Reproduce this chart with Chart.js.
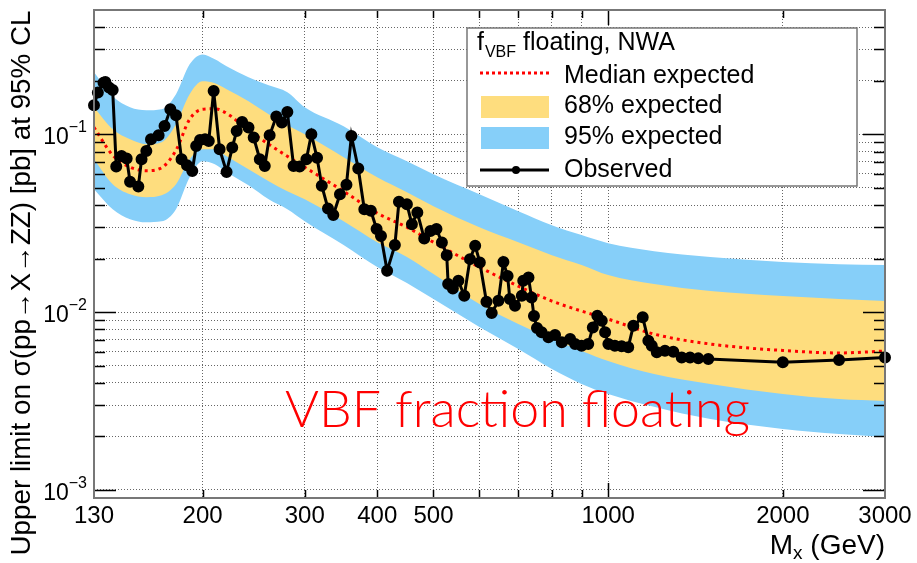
<!DOCTYPE html>
<html>
<head>
<meta charset="utf-8">
<script src="https://cdn.jsdelivr.net/npm/chart.js@4.4.0/dist/chart.umd.min.js"></script>
<style>
  html, body { margin: 0; padding: 0; background: #fff; }
  #wrap { width: 917px; height: 563px; }
</style>
</head>
<body>
<div id="wrap"><canvas id="chart" width="917" height="563"></canvas></div>
<script>
// Observed upper limit (pb) vs. resonance mass (GeV)
const obsMass = [130, 132, 135, 136, 138, 140, 142, 145, 148, 150, 155, 157, 160, 163, 168, 172, 176, 180, 184, 188,
    192, 195, 198, 202, 205, 209, 214, 220, 225, 229, 234, 240, 245, 251, 256, 261, 268, 274, 280, 287,
    294, 302, 308, 315, 321, 329, 336, 345, 354, 361, 371, 380, 390, 399, 406, 416, 429, 436, 450, 459,
    469, 482, 494, 506, 517, 527, 530, 540, 552, 565, 578, 590, 601, 617, 630, 647, 660, 671, 677, 691,
    710, 714, 729, 738, 745, 754, 768, 789, 810, 832, 860, 877, 900, 924, 941, 958, 975, 988, 1001, 1027,
    1055, 1083, 1105, 1147, 1173, 1189, 1213, 1253, 1295, 1339, 1384, 1430, 1488, 2000, 2500, 3000];
const obsLimit = [0.1455, 0.1715, 0.1952, 0.1967, 0.1830, 0.1774, 0.0658, 0.0755, 0.0730, 0.0540, 0.0508, 0.0724, 0.0806, 0.0937, 0.0987, 0.1113, 0.1382, 0.1279, 0.0724, 0.0670,
    0.0622, 0.0860, 0.0929, 0.0937, 0.0917, 0.1751, 0.0824, 0.0614, 0.0842, 0.1044, 0.1172, 0.1091, 0.0958, 0.0724, 0.0664, 0.0987, 0.1257, 0.1163, 0.1335, 0.0664,
    0.0658, 0.0724, 0.1000, 0.0738, 0.0514, 0.0382, 0.0351, 0.0460, 0.0520, 0.0978, 0.0642, 0.0379, 0.0371, 0.0293, 0.0268, 0.01706, 0.0238, 0.0417, 0.0404, 0.0312,
    0.0363, 0.0259, 0.0286, 0.0293, 0.0246, 0.0209, 0.01437, 0.01359, 0.01499, 0.01235, 0.01985, 0.0236, 0.01902, 0.01143, 0.00987, 0.01157, 0.0191, 0.01593, 0.01183, 0.01085,
    0.01235, 0.01499, 0.01566, 0.01209, 0.00950, 0.00813, 0.00769, 0.00721, 0.00743, 0.00676, 0.00705, 0.00661, 0.00647, 0.00661, 0.00820, 0.00953, 0.00894, 0.00769, 0.00661, 0.00647,
    0.00642, 0.00634, 0.00837, 0.00934, 0.00690, 0.00647, 0.00594, 0.00606, 0.00598, 0.00556, 0.00556, 0.00549, 0.00544, 0.00522, 0.00537, 0.00556];

// Expected limit and its 68% / 95% bands
const expMass = [130, 140, 150, 160, 170, 180, 190, 200, 210, 220, 240, 260, 280, 300, 350, 400, 450, 500, 600, 700, 800, 900, 1000, 1200, 1500, 2000, 2500, 3000];
const expMedian = [0.1095, 0.0762, 0.0653, 0.0624, 0.0648, 0.0813, 0.1214, 0.1382, 0.1391, 0.1312, 0.1053, 0.0879, 0.0752, 0.0653, 0.0478, 0.0360, 0.0300, 0.0247, 0.0179, 0.0140, 0.01153, 0.01013, 0.00913, 0.00752, 0.00661, 0.00608, 0.00589, 0.00604];
const exp2Up = [0.2230, 0.1635, 0.1418, 0.1364, 0.1382, 0.1678, 0.2473, 0.2814, 0.2638, 0.2410, 0.2090, 0.1885, 0.1722, 0.1418, 0.1109, 0.0845, 0.0705, 0.0596, 0.0460, 0.0369, 0.0308, 0.0271, 0.0244, 0.0220, 0.0204, 0.0191, 0.0186, 0.0184];
const exp1Up = [0.1418, 0.1067, 0.0937, 0.0879, 0.0902, 0.1138, 0.1678, 0.1985, 0.1934, 0.1790, 0.1532, 0.1295, 0.1123, 0.1000, 0.0743, 0.0573, 0.0472, 0.0394, 0.0300, 0.0247, 0.0209, 0.0184, 0.01614, 0.01437, 0.01312, 0.01230, 0.01183, 0.01153];
const exp1Down = [0.0724, 0.0524, 0.0460, 0.0443, 0.0454, 0.0524, 0.0724, 0.0824, 0.0824, 0.0752, 0.0636, 0.0544, 0.0478, 0.0431, 0.0324, 0.0247, 0.0204, 0.01635, 0.01109, 0.00856, 0.00705, 0.00604, 0.00531, 0.00448, 0.00394, 0.00346, 0.00324, 0.00316];
const exp2Down = [0.0491, 0.0379, 0.0333, 0.0320, 0.0324, 0.0379, 0.0573, 0.0705, 0.0679, 0.0612, 0.0517, 0.0431, 0.0379, 0.0324, 0.0238, 0.0179, 0.01455, 0.01183, 0.00824, 0.00619, 0.00478, 0.00394, 0.00346, 0.00293, 0.00250, 0.00220, 0.00206, 0.00198];

// axis ticks
const xGridValues = [200, 300, 400, 500, 600, 700, 800, 900, 1000, 2000];
const xLabelValues = [130, 200, 300, 400, 500, 1000, 2000, 3000];
const yGridValues = [0.001, 0.002, 0.003, 0.004, 0.005, 0.006, 0.007, 0.008, 0.009,
    0.01, 0.02, 0.03, 0.04, 0.05, 0.06, 0.07, 0.08, 0.09, 0.1, 0.2, 0.3, 0.4];
const yLabelValues = [0.001, 0.01, 0.1];

const YELLOW = '#fedd7e';
const BLUE = '#86cff9';
const FONT = "'Liberation Sans', Arial, sans-serif";
const NOTE_FONT = "Lato, 'Noto Sans', sans-serif";

function pts(xs, ys) {
    return xs.map((m, i) => ({ x: m, y: ys[i] }));
}

function isDecade(v) {
    const l = Math.log10(v);
    return Math.abs(l - Math.round(l)) < 1e-9;
}

// font size at which the text spans the given width
function fitFont(ctx, text, width, family, base, weight) {
    ctx.font = (weight || '') + ' ' + base + 'px ' + family;
    return base * width / ctx.measureText(text).width;
}

const overlay = {
    id: 'overlay',
    afterDraw(chart) {
        const { ctx, chartArea: a, scales: { x, y } } = chart;
        ctx.save();

        // tick marks on all four sides
        ctx.strokeStyle = '#000';
        ctx.lineWidth = 1.5;
        ctx.beginPath();
        yGridValues.forEach(v => {
            const py = Math.round(y.getPixelForValue(v)) + 0.5;
            const len = isDecade(v) ? 22 : 11;
            ctx.moveTo(a.left, py); ctx.lineTo(a.left + len, py);
            ctx.moveTo(a.right, py); ctx.lineTo(a.right - len, py);
        });
        xGridValues.forEach(v => {
            const px = Math.round(x.getPixelForValue(v)) + 0.5;
            const len = isDecade(v) ? 15 : 8;
            ctx.moveTo(px, a.bottom); ctx.lineTo(px, a.bottom - len);
            ctx.moveTo(px, a.top); ctx.lineTo(px, a.top + len);
        });
        ctx.stroke();

        // frame
        ctx.strokeStyle = '#777';
        ctx.lineWidth = 2;
        ctx.strokeRect(a.left, a.top, a.right - a.left, a.bottom - a.top);

        // tick labels
        ctx.fillStyle = '#000';
        ctx.textBaseline = 'alphabetic';
        ctx.textAlign = 'center';
        ctx.font = '24px ' + FONT;
        xLabelValues.forEach(v => {
            ctx.fillText(String(v), x.getPixelForValue(v), 523);
        });
        ctx.textAlign = 'left';
        yLabelValues.forEach(v => {
            const py = y.getPixelForValue(v);
            const sup = '\u2212' + Math.abs(Math.round(Math.log10(v)));
            ctx.font = '16px ' + FONT;
            const supW = ctx.measureText(sup).width;
            ctx.font = '23px ' + FONT;
            const baseW = ctx.measureText('10').width;
            const x0 = 87 - supW - baseW;
            ctx.fillText('10', x0, py + 10);
            ctx.font = '16px ' + FONT;
            ctx.fillText(sup, x0 + baseW, py - 2);
        });

        // x title: M_x (GeV), right aligned
        ctx.font = '28px ' + FONT;
        const tail = ' (GeV)';
        const tailW = ctx.measureText(tail).width;
        const mW = ctx.measureText('M').width;
        ctx.font = '19px ' + FONT;
        const subW = ctx.measureText('x').width;
        const tx = a.right - tailW - subW - mW;
        ctx.font = '28px ' + FONT;
        ctx.fillText('M', tx, 554);
        ctx.font = '19px ' + FONT;
        ctx.fillText('x', tx + mW, 559);
        ctx.font = '28px ' + FONT;
        ctx.fillText(tail, tx + mW + subW, 554);

        // y title, rotated
        const yTitle = 'Upper limit on \u03c3(pp\u2192X\u2192ZZ) [pb] at 95% CL';
        const ySize = fitFont(ctx, yTitle, 545, FONT, 26);
        ctx.save();
        ctx.translate(30, 283);
        ctx.rotate(-Math.PI / 2);
        ctx.textAlign = 'center';
        ctx.font = ySize.toFixed(2) + 'px ' + FONT;
        ctx.fillText(yTitle, 0, 0);
        ctx.restore();

        // annotation
        const note = 'VBF fraction floating';
        const nSize = fitFont(ctx, note, 465, NOTE_FONT, 46, '300');
        ctx.font = '300 ' + nSize.toFixed(2) + 'px ' + NOTE_FONT;
        ctx.fillStyle = '#ff0000';
        ctx.textAlign = 'left';
        ctx.fillText(note, 285, 427);

        // legend box
        ctx.fillStyle = '#fff';
        ctx.fillRect(467, 28, 390, 158);
        ctx.strokeStyle = '#777';
        ctx.lineWidth = 1.5;
        ctx.strokeRect(467, 28, 390, 158);

        ctx.fillStyle = '#000';
        ctx.font = '25px ' + FONT;
        ctx.fillText('f', 477, 50);
        const fW = ctx.measureText('f').width;
        ctx.font = '16px ' + FONT;
        ctx.fillText('VBF', 477 + fW + 1, 57);
        const vbfW = ctx.measureText('VBF').width;
        ctx.font = '25px ' + FONT;
        ctx.fillText(' floating, NWA', 477 + fW + 1 + vbfW, 50);

        ctx.fillText('Median expected', 564, 83);
        ctx.fillText('68% expected', 564, 113);
        ctx.fillText('95% expected', 564, 144);
        ctx.fillText('Observed', 564, 177);

        ctx.strokeStyle = '#ff0000';
        ctx.lineWidth = 3;
        ctx.setLineDash([3, 3]);
        ctx.beginPath(); ctx.moveTo(480, 73); ctx.lineTo(549, 73); ctx.stroke();
        ctx.setLineDash([]);

        ctx.fillStyle = YELLOW;
        ctx.fillRect(481, 96, 68, 22);
        ctx.fillStyle = BLUE;
        ctx.fillRect(481, 127, 68, 22);

        ctx.strokeStyle = '#000';
        ctx.lineWidth = 3;
        ctx.beginPath(); ctx.moveTo(480, 170); ctx.lineTo(549, 170); ctx.stroke();
        ctx.fillStyle = '#000';
        ctx.beginPath(); ctx.arc(516, 170, 4, 0, Math.PI * 2); ctx.fill();

        ctx.restore();
    }
};

const bandEdge = {
    borderColor: 'rgba(0,0,0,0)',
    borderWidth: 0,
    pointRadius: 0,
    cubicInterpolationMode: 'monotone'
};

new Chart(document.getElementById('chart'), {
    type: 'line',
    data: {
        datasets: [
            {
                label: 'Observed',
                data: pts(obsMass, obsLimit),
                borderColor: '#000',
                backgroundColor: '#000',
                borderWidth: 3,
                pointRadius: 4.5,
                pointHoverRadius: 4.5,
                tension: 0,
                fill: false,
                clip: false
            },
            {
                label: 'Median expected',
                data: pts(expMass, expMedian),
                borderColor: '#ff0000',
                borderWidth: 3,
                borderDash: [3, 4],
                pointRadius: 0,
                fill: false,
                cubicInterpolationMode: 'monotone'
            },
            { label: '68% expected', data: pts(expMass, exp1Up), backgroundColor: YELLOW, fill: 4, ...bandEdge },
            { label: '95% expected', data: pts(expMass, exp2Up), backgroundColor: BLUE, fill: 5, ...bandEdge },
            { label: '68% low', data: pts(expMass, exp1Down), fill: false, ...bandEdge },
            { label: '95% low', data: pts(expMass, exp2Down), fill: false, ...bandEdge }
        ]
    },
    options: {
        responsive: false,
        animation: false,
        devicePixelRatio: 1,
        layout: { padding: { top: 10, right: 32, left: 0, bottom: 0 } },
        plugins: { legend: { display: false }, tooltip: { enabled: false } },
        scales: {
            x: {
                type: 'logarithmic',
                min: 130,
                max: 3000,
                afterBuildTicks: s => { s.ticks = xGridValues.map(v => ({ value: v })); },
                afterFit: s => { s.height = 65; },
                ticks: { display: false },
                grid: { color: 'rgba(0,0,0,0.6)', lineWidth: 1, drawTicks: false },
                border: { display: false, dash: [1, 2] }
            },
            y: {
                type: 'logarithmic',
                min: 0.0009,
                max: 0.5,
                afterBuildTicks: s => { s.ticks = yGridValues.map(v => ({ value: v })); },
                afterFit: s => { s.width = 94; },
                ticks: { display: false },
                grid: { color: 'rgba(0,0,0,0.6)', lineWidth: 1, drawTicks: false },
                border: { display: false, dash: [1, 2] }
            }
        }
    },
    plugins: [overlay]
});
</script>
</body>
</html>
